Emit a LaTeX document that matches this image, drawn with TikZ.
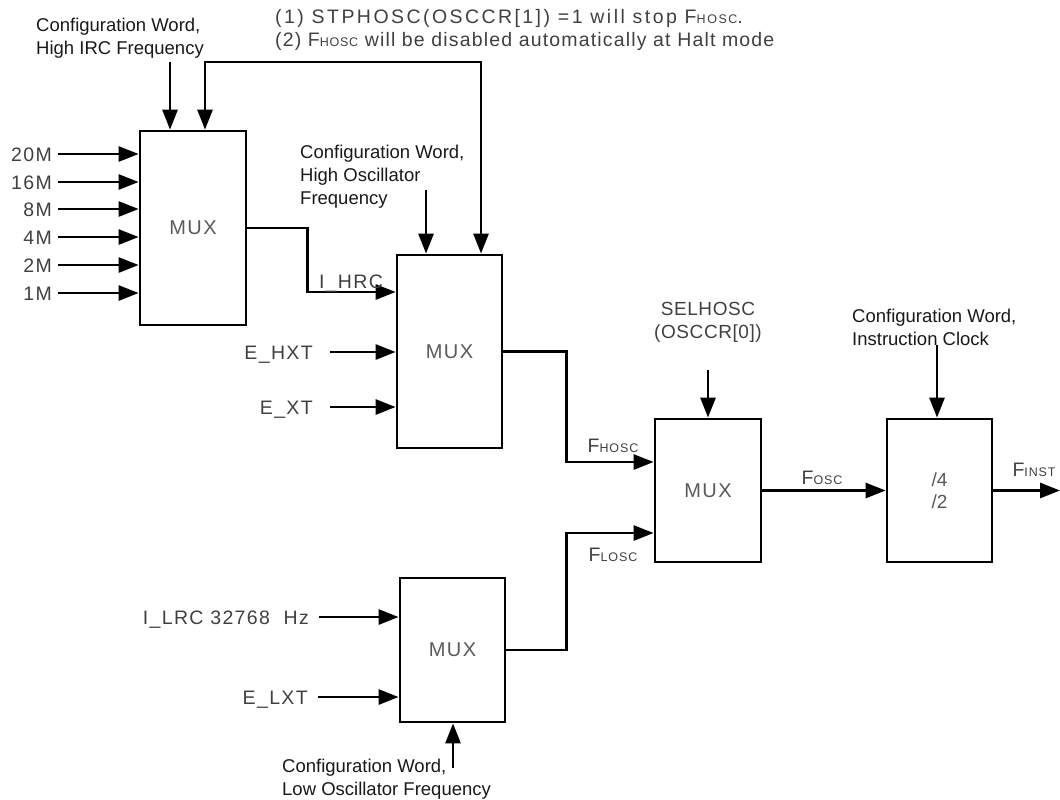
\documentclass[tikz,border=0pt]{standalone}
\usepackage{fontspec}
\setmainfont{Liberation Sans}
\usetikzlibrary{arrows.meta}
\newcommand\fsub[1]{F{\fontsize{12.5}{12.5}\selectfont #1}}
\tikzset{
  mux/.style={draw,line width=2.8pt,inner sep=0pt,text=black!65,font=\fontsize{20}{24}\selectfont\addfontfeatures{LetterSpace=7}},
  lbl/.style={inner sep=0pt,text=black!75,font=\fontsize{19.5}{23}\selectfont\addfontfeatures{LetterSpace=7},text height=14pt,text depth=0pt},
  inp/.style={lbl,anchor=east,inner xsep=6pt},
  note/.style={inner sep=0pt,text=black!90,font=\fontsize{18.5}{23}\selectfont,align=left,anchor=north west},
  sig/.style={line width=2.8pt,-{Triangle[length=20pt,width=15pt]}},
  both/.style={line width=2.8pt,{Triangle[length=20pt,width=15pt]}-{Triangle[length=20pt,width=15pt]}}
}
\begin{document}
\begin{tikzpicture}[x=1pt,y=-1pt]
\useasboundingbox (0,0) rectangle (1060,800);
\node[mux,minimum width=106pt,minimum height=194pt] (m1) at (193,228) {MUX};
\node[mux,minimum width=105pt,minimum height=193pt] (m2) at (449.5,351.5) {MUX};
\node[mux,minimum width=106pt,minimum height=143pt] (m3) at (708,490.5) {MUX};
\node[mux,minimum width=105pt,minimum height=144pt] (m4) at (452.5,650) {MUX};
\node[mux,minimum width=105pt,minimum height=143pt,align=center,font=\fontsize{19}{22}\selectfont] (d) at (939.5,490.5) {/4\\/2};
\foreach \t/\y in {20M/154,16M/182,8M/209,4M/237,2M/265,1M/293} {
\node[inp] (in\t) at (58,\y) {\t};\draw[sig] (in\t) -- (in\t -| m1.west);}
\node[inp,inner xsep=17pt] (ehxt) at (330,352) {E\_HXT};\draw[sig] (ehxt) -- (ehxt -| m2.west);
\node[inp,inner xsep=17pt] (ext) at (330,407) {E\_XT};\draw[sig] (ext) -- (ext -| m2.west);
\node[inp,inner xsep=10pt] (ilrc) at (319,617) {I\_LRC 32768~ Hz};\draw[sig] (ilrc) -- (ilrc -| m4.west);
\node[inp,inner xsep=10pt] (elxt) at (318,697) {E\_LXT};\draw[sig] (elxt) -- (elxt -| m4.west);
\node[note] (cw1) at (36,18) {Configuration Word,\\High IRC Frequency};
\node[note] (cw2) at (300,145) {Configuration Word,\\High Oscillator\\Frequency};
\node[note] (cw3) at (852,309) {Configuration Word,\\Instruction Clock};
\node[note] (cw4) at (282,759) {Configuration Word,\\Low Oscillator Frequency};
\node[note,align=center,anchor=north,text=black!75,font=\fontsize{19}{23}\selectfont\addfontfeatures{LetterSpace=3}] (sel) at (708,302) {SELHOSC\\(OSCCR[0])};
\node[note,text=black!75,font=\fontsize{19.5}{23}\selectfont] (stp) at (275,9) {{\addfontfeatures{LetterSpace=12.5}(1) STPHOSC(OSCCR[1]) =1 will stop \fsub{HOSC}.}\\{\addfontfeatures{LetterSpace=6}(2) \fsub{HOSC} will be disabled automatically at Halt mode}};
\coordinate (a1) at (170,62);\coordinate (a2) at (205,62);\coordinate (a3) at (481,62);
\coordinate (a4) at (426,190);\coordinate (a5) at (708,370);\coordinate (a6) at (937,345);
\coordinate (a7) at (453,768);\coordinate (fo) at (1060,490.5);
\draw[sig] (a1) -- (a1 |- m1.north);
\draw[both] (a2 |- m1.north) -- (a2) -- (a3) -- (a3 |- m2.north);
\draw[sig] (a4) -- (a4 |- m2.north);\draw[sig] (a5) -- (m3.north);
\draw[sig] (a6) -- (a6 |- d.north);\draw[sig] (a7) -- (a7 |- m4.south);
\draw[sig] (m1.east) -- ++(60,0) |- ([yshift=59.5pt]m2.west);
\draw[sig] (m2.east) -- ++(63,0) |- ([yshift=28.5pt]m3.west);
\draw[sig] (m4.east) -- ++(60,0) |- ([yshift=-42.5pt]m3.west);
\draw[sig] (m3) -- (d);\draw[sig] (d) -- (fo);
\node[lbl] (ihrc) at (351,281) {I\_HRC};
\node[lbl] (fh) at (613,445) {\fsub{HOSC}};\node[lbl] (fl) at (613,554) {\fsub{LOSC}};
\node[lbl] (fosc) at (822,477.5) {\fsub{OSC}};\node[lbl] (finst) at (1034,469.5) {\fsub{INST}};
\end{tikzpicture}
\end{document}
